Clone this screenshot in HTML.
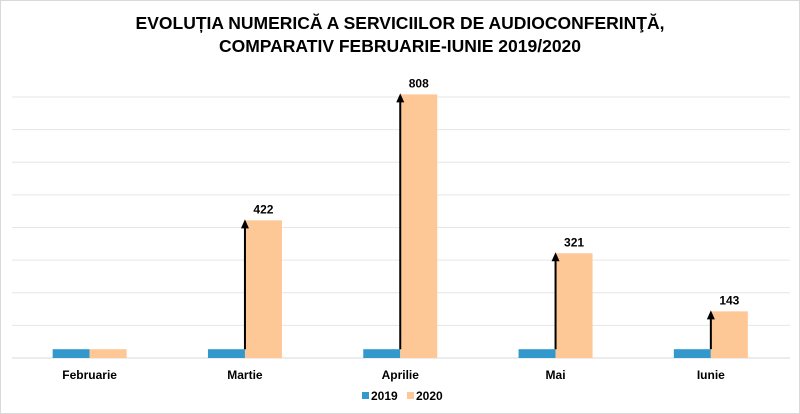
<!DOCTYPE html>
<html><head><meta charset="utf-8"><style>
body{margin:0;background:#fff;}
svg{display:block;font-family:"Liberation Sans",Arial,sans-serif;}
</style></head><body>
<svg id="c" width="800" height="414">
<rect x="0.5" y="0.5" width="799" height="413" fill="#fff" stroke="#d9d9d9"/>
<text x="400" y="29" text-anchor="middle" font-size="17.5" font-weight="bold" fill="#000">EVOLUȚIA NUMERICĂ A SERVICIILOR DE AUDIOCONFERINŢĂ,</text>
<text x="400" y="52" text-anchor="middle" font-size="17.5" font-weight="bold" fill="#000">COMPARATIV FEBRUARIE-IUNIE 2019/2020</text>
<g id="grid"></g><g id="bars"></g>
<g>
<rect x="362" y="392" width="7" height="7" fill="#3399cc"/>
<text x="371" y="400" font-size="12" font-weight="bold">2019</text>
<rect x="407" y="392" width="7" height="7" fill="#fdc896"/>
<text x="416" y="400" font-size="12" font-weight="bold">2020</text>
</g>
</svg>
<script>
const categories=["Februarie","Martie","Aprilie","Mai","Iunie"];
const values2019=[27,27,27,27,27];
const values2020=[27,422,808,321,143];
const labels2020=["","422","808","321","143"];
const gridTicks=[100,200,300,400,500,600,700,800];
const NS="http://www.w3.org/2000/svg";
const base=358, scale=261/800, x0=12, step=155.3, bw=37;
const y=v=>base-v*scale;
const cx=i=>x0+step*(i+0.5);
function mk(t,a,p){const e=document.createElementNS(NS,t);for(const k in a)e.setAttribute(k,a[k]);p.appendChild(e);return e;}
const g=document.getElementById('grid'), b=document.getElementById('bars');
mk('line',{x1:x0,x2:790,y1:base,y2:base,stroke:'#d9d9d9'},g);
gridTicks.forEach(t=>{const l=mk('line',{x1:x0,x2:790,y1:y(t),y2:y(t),stroke:'#e6e6e6'},g);
});
categories.forEach((c,i)=>{
 const r1=mk('rect',{x:cx(i)-bw,y:y(values2019[i]),width:bw,height:values2019[i]*scale,fill:'#3399cc'},b);
 
 const r2=mk('rect',{x:cx(i),y:y(values2020[i]),width:bw,height:values2020[i]*scale,fill:'#fdc896'},b);
 
 if(labels2020[i]){
  const top=y(values2020[i]);
  const a=mk('line',{x1:cx(i),x2:cx(i),y1:y(values2019[i]),y2:top+6,stroke:'#000','stroke-width':2},b);
  
  const h=mk('path',{d:`M${cx(i)-4},${top+8} L${cx(i)},${top-1} L${cx(i)+4},${top+8} Z`,fill:'#000'},b);
  
  const t=mk('text',{x:cx(i)+bw/2,y:top-7,'text-anchor':'middle','font-size':12,'font-weight':'bold'},b);
  t.textContent=labels2020[i];
 }
 const tl=mk('text',{x:cx(i),y:379,'text-anchor':'middle','font-size':12,'font-weight':'bold'},b);
 tl.textContent=c;
});
</script>
</body></html>
